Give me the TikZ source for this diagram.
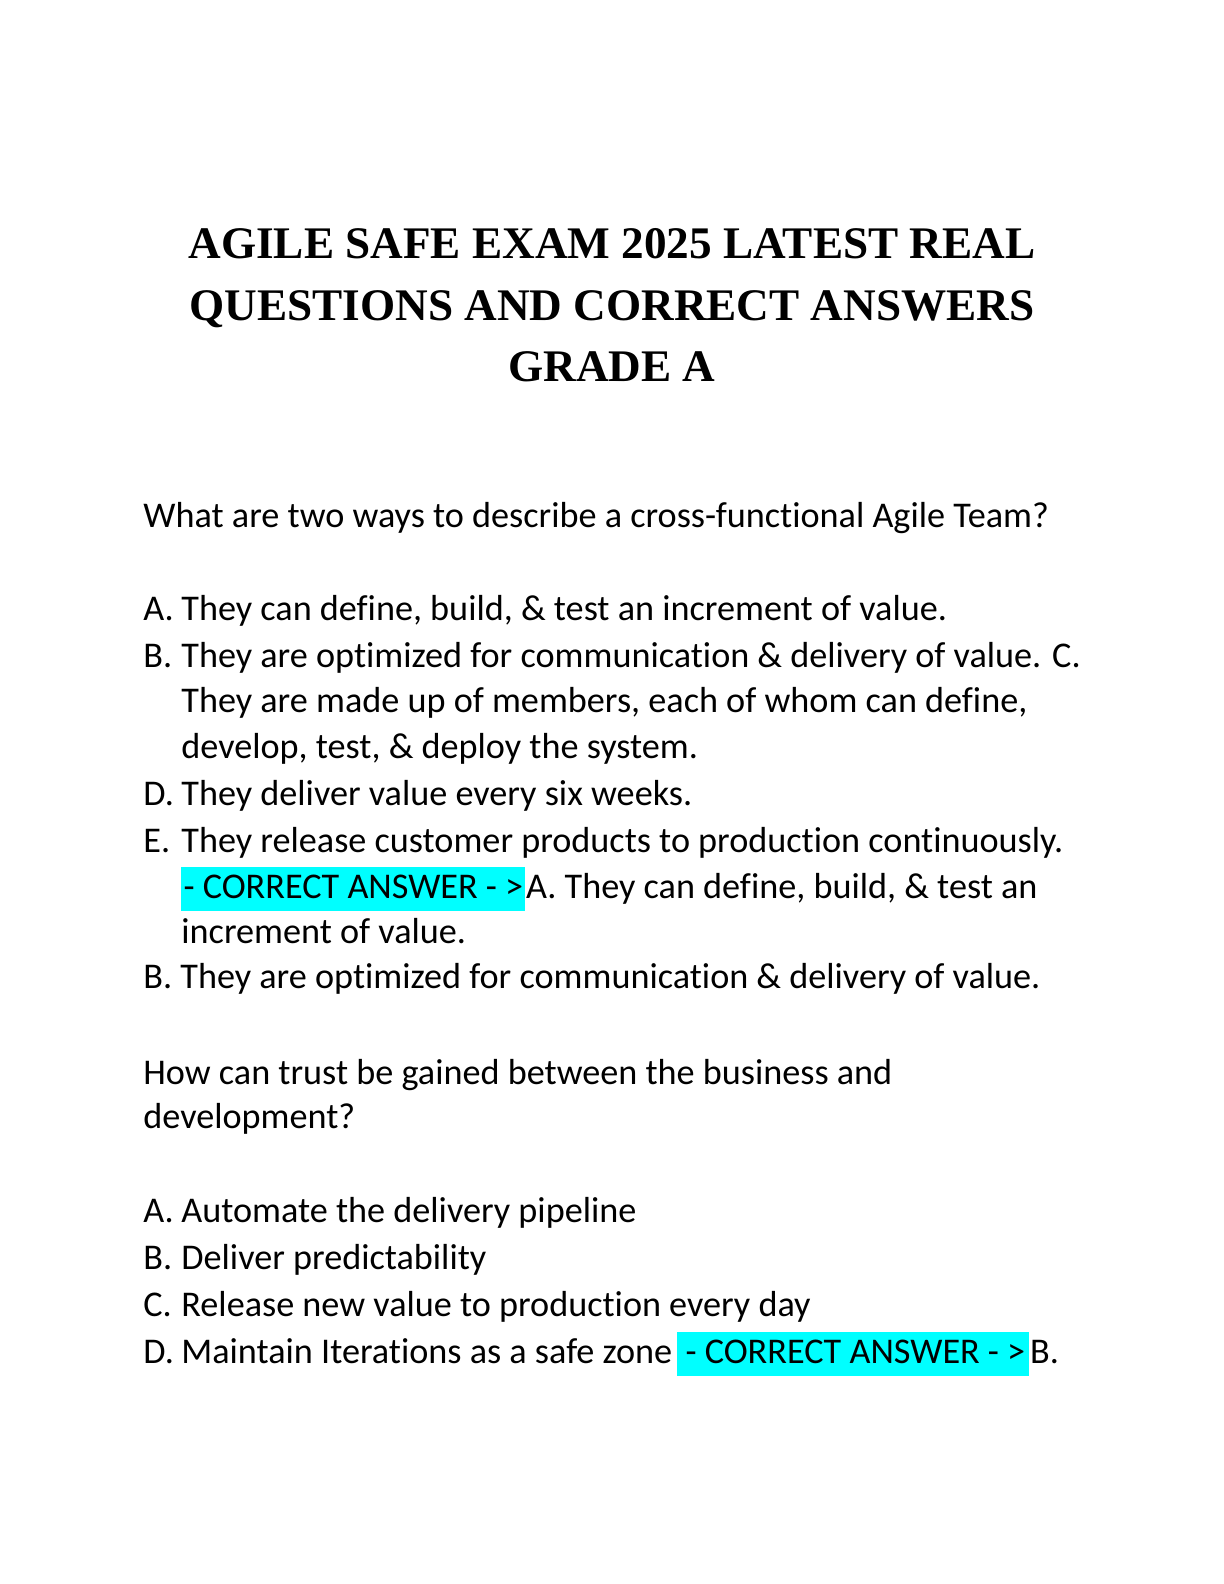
\documentclass[tikz,border=0pt]{standalone}
\usepackage{fontspec}
\setmainfont[RawFeature=-liga]{Carlito}
\newfontfamily\titlefont{Liberation Serif}
\definecolor{hl}{RGB}{0,255,255}
\begin{document}
\begin{tikzpicture}[x=1pt,y=1pt,
  ln/.style={anchor=base west,inner sep=0pt,font=\fontsize{18.1}{22}\selectfont},
  ttl/.style={anchor=base,inner sep=0pt,font=\titlefont\bfseries\fontsize{22.6}{27}\selectfont},
  hlbox/.style={ln,fill=hl,text height=15.5pt,text depth=6.5pt}]
\useasboundingbox (0,0) rectangle (612,-792);
\fill[white] (0,0) rectangle (612,-792);
\node[ttl] (t1) at (306,-129) {AGILE SAFE EXAM 2025 LATEST REAL};
\node[ttl] (t2) at (306,-160) {QUESTIONS AND CORRECT ANSWERS};
\node[ttl] (t3) at (306,-190.5) {GRADE A};
\node[ln] (q1) at (71.5,-263.5) {What are two ways to describe a cross-functional Agile Team?};
\node[ln] (a) at (71.5,-310) {A.};
\node[ln] (at) at (90.5,-310) {They can define, build, \& test an increment of value.};
\node[ln] (b) at (71.5,-333.5) {B.};
\node[ln] (bt) at (90.5,-333.5) {They are optimized for communication \& delivery of value. C.};
\node[ln] (c2) at (90.5,-356) {They are made up of members, each of whom can define,};
\node[ln] (c3) at (90.5,-379) {develop, test, \& deploy the system.};
\node[ln] (d) at (71.5,-402.5) {D.};
\node[ln] (dt) at (90.5,-402.5) {They deliver value every six weeks.};
\node[ln] (e) at (71.5,-426) {E.};
\node[ln] (et) at (90.5,-426) {They release customer products to production continuously.};
\node[hlbox,minimum width=172pt,align=left] (h1) at (90.5,-449) {- CORRECT ANSWER - >};
\node[ln] (h1t) at (h1.base east) {A. They can define, build, \& test an};
\node[ln] (h1u) at (90.5,-471.5) {increment of value.};
\node[ln] (b2) at (71.5,-494) {B. They are optimized for communication \& delivery of value.};
\node[ln] (q2) at (71.5,-542) {How can trust be gained between the business and};
\node[ln] (q2b) at (71.5,-564) {development?};
\node[ln] (qa) at (71.5,-611) {A.};
\node[ln] (qat) at (90.5,-611) {Automate the delivery pipeline};
\node[ln] (qb) at (71.5,-634.5) {B.};
\node[ln] (qbt) at (90.5,-634.5) {Deliver predictability};
\node[ln] (qc) at (71.5,-658) {C.};
\node[ln] (qct) at (90.5,-658) {Release new value to production every day};
\node[ln] (qd) at (71.5,-681.5) {D.};
\node[ln] (qdt) at (90.5,-681.5) {Maintain Iterations as a safe zone};
\node[hlbox,minimum width=176pt,align=left] (h2) at (338.5,-681.5) {\hspace{2pt}- CORRECT ANSWER - >};
\node[ln] (h2t) at (h2.base east) {B.};
\end{tikzpicture}
\end{document}
